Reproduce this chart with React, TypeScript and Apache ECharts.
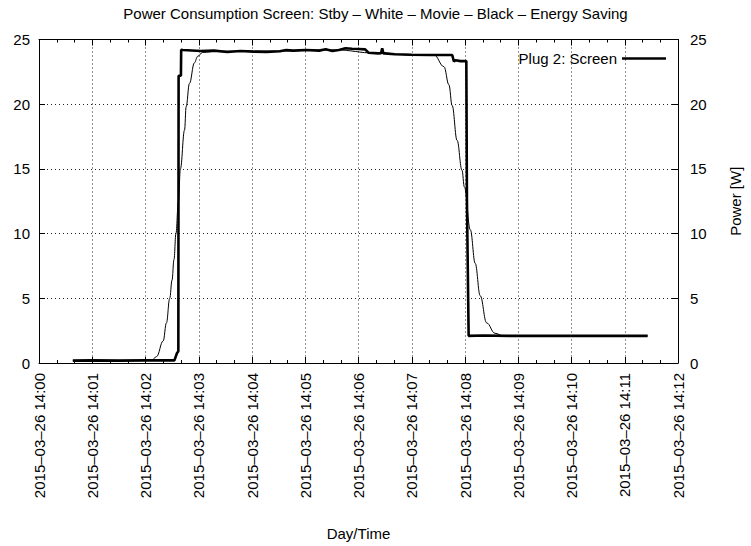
import React, { useEffect, useRef } from 'react';
import * as echarts from 'echarts';

const chartTitle = 'Power Consumption Screen: Stby – White – Movie – Black – Energy Saving';
const xAxisTitle = 'Day/Time';
const yAxisTitle = 'Power [W]';
const seriesName = 'Plug 2: Screen';
const smoothName = 'Plug 2: Screen (smoothed)';

const tickLabels = [
  '2015–03–26 14:00', '2015–03–26 14:01', '2015–03–26 14:02', '2015–03–26 14:03',
  '2015–03–26 14:04', '2015–03–26 14:05', '2015–03–26 14:06', '2015–03–26 14:07',
  '2015–03–26 14:08', '2015–03–26 14:09', '2015–03–26 14:10', '2015–03–26 14:11',
  '2015–03–26 14:12',
];

// seconds after 14:00:00
const screenSeconds = [
  38.1, 60, 90, 120, 152.6, 155.4, 157.0, 157.3, 159.9, 160.2, 162.1, 182.4, 197.3, 212.1,
  226.8, 241.7, 256.5, 271.3, 278.7, 286.1, 300.9, 315.7, 323.1, 330.5, 337.9, 345.3,
  352.7, 360.1, 367.5, 371.2, 382.3, 385.5, 386.7, 388.0, 389.7, 400.8, 420, 440, 465.6,
  467.5, 469.3, 475, 481.5, 482.2, 484.1, 500, 530, 560, 600, 640, 685.8,
];
const screenPower = [
  0.18, 0.2, 0.18, 0.2, 0.2, 0.75, 0.9, 22.2, 22.2, 24.2, 24.19, 24.11, 24.14, 24.04,
  24.11, 24.06, 24.04, 24.09, 24.19, 24.14, 24.19, 24.14, 24.24, 24.11, 24.19, 24.32,
  24.29, 24.27, 24.24, 23.98, 23.93, 23.95, 24.32, 23.93, 23.93, 23.86, 23.82, 23.8, 23.8,
  23.3, 23.4, 23.33, 23.33, 12.4, 2.1, 2.12, 2.1, 2.1, 2.11, 2.1, 2.1,
];

const smoothSeconds = [
  38.1, 90, 126.9, 132.5, 139.9, 143.6, 147.3, 149.9, 152.1, 154.3, 157.1, 159.3, 164.0,
  165.8, 169.5, 175.1, 178.8, 184.3, 201.0, 267.6, 334.2, 378.6, 423.0, 445.2, 456.3,
  461.9, 465.5, 471.1, 476.6, 479.3, 486.0, 491.5, 497.1, 504.4, 513.7, 523.0, 578.5, 685.8,
];
const smoothPower = [
  0.2, 0.2, 0.2, 0.5, 1.7, 3.1, 5.0, 6.4, 8.0, 10.0, 12.5, 15.0, 18.0,
  19.8, 21.6, 23.2, 23.7, 24.0, 24.1, 24.1, 24.2, 23.95, 23.8, 23.8, 22.9,
  21.5, 19.9, 17.2, 14.9, 13.6, 10.3, 7.7, 5.2, 3.1, 2.3, 2.1, 2.1, 2.1,
];

export default function App() {
  const ref = useRef<HTMLDivElement>(null);
  useEffect(() => {
    const chart = echarts.init(ref.current as HTMLDivElement, null, { renderer: 'svg' });
    const font = '"Liberation Sans", Arial, Helvetica, sans-serif';
    const black = '#000';
    const dotted = { show: true, lineStyle: { color: '#222', width: 1, type: [1, 3] as number[] } };
    const axisLine = { show: true, onZero: false, lineStyle: { color: black, width: 1 } };
    const tick = { show: true, inside: true, length: 6, lineStyle: { color: black, width: 1 } };
    const minor = { show: true, splitNumber: 3, length: 3, lineStyle: { color: black, width: 1 } };
    const txt = { fontSize: 15, color: black, fontFamily: font };

    chart.setOption({
      animation: false,
      backgroundColor: '#fff',
      title: {
        text: chartTitle,
        left: 'center',
        top: 1,
        textStyle: { ...txt, fontWeight: 'normal' },
      },
      legend: {
        data: [{ name: seriesName, icon: 'rect' }],
        right: 80,
        top: 46,
        align: 'right',
        itemWidth: 44,
        itemHeight: 2.5,
        selectedMode: false,
        textStyle: { ...txt },
      },
      grid: { left: 39, top: 39.5, width: 648.5, height: 324, containLabel: false },
      xAxis: [
        {
          type: 'value', min: 0, max: 720, interval: 60, position: 'bottom',
          axisLine, axisTick: tick, minorTick: minor, splitLine: dotted,
          axisLabel: {
            ...txt, rotate: 90, margin: 10,
            formatter: (v: number) => tickLabels[Math.round(v / 60)] ?? '',
          },
          name: xAxisTitle, nameLocation: 'middle', nameGap: 163, nameTextStyle: { ...txt },
        },
        {
          type: 'value', min: 0, max: 720, interval: 60, position: 'top',
          axisLine, axisTick: tick, minorTick: minor, splitLine: { show: false },
          axisLabel: { show: false },
        },
      ],
      yAxis: [
        {
          type: 'value', min: 0, max: 25, interval: 5, position: 'left',
          axisLine, axisTick: tick, splitLine: dotted,
          axisLabel: { ...txt, margin: 9 },
        },
        {
          type: 'value', min: 0, max: 25, interval: 5, position: 'right',
          axisLine, axisTick: tick, splitLine: { show: false },
          axisLabel: { ...txt, margin: 12 },
          name: yAxisTitle, nameLocation: 'middle', nameRotate: 90, nameGap: 50,
          nameTextStyle: { ...txt },
        },
      ],
      series: [
        {
          name: seriesName, type: 'line', xAxisIndex: 0, yAxisIndex: 0,
          data: screenSeconds.map((s, i) => [s, screenPower[i]]),
          symbol: 'none', showSymbol: false,
          lineStyle: { color: black, width: 2.6 }, itemStyle: { color: black },
          z: 2,
        },
        {
          name: smoothName, type: 'line', xAxisIndex: 0, yAxisIndex: 0,
          data: smoothSeconds.map((s, i) => [s, smoothPower[i]]),
          smooth: 0.4, smoothMonotone: 'x',
          symbol: 'none', showSymbol: false,
          lineStyle: { color: black, width: 1 }, itemStyle: { color: black },
          z: 3,
        },
      ],
    });
    return () => chart.dispose();
  }, []);
  return <div ref={ref} style={{ position: 'absolute', left: 0, top: 0, width: 751, height: 546 }} />;
}
